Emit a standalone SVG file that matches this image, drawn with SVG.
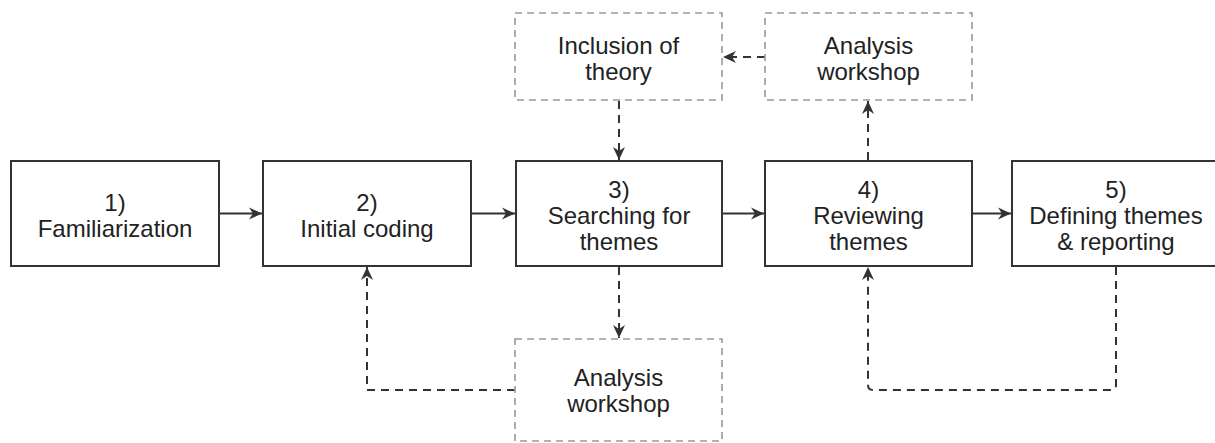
<svg xmlns="http://www.w3.org/2000/svg" width="1215" height="443" viewBox="0 0 1215 443">
  <style>
    .box { fill: #ffffff; stroke: #333333; stroke-width: 2; }
    .dbox { fill: #ffffff; stroke: #999999; stroke-width: 1.6; stroke-dasharray: 7 5; }
    .lbl { font-family: "Liberation Sans", Arial, sans-serif; font-size: 24px; fill: #222222; text-anchor: middle; }
    .solid { fill: none; stroke: #333333; stroke-width: 2; marker-end: url(#arrow); }
    .dash { fill: none; stroke: #333333; stroke-width: 2; stroke-dasharray: 8 6; marker-end: url(#arrow); }
  </style>
  <defs>
    <marker id="arrow" markerUnits="userSpaceOnUse" markerWidth="14" markerHeight="14" viewBox="0 0 14 14" refX="13" refY="7" orient="auto">
      <path d="M0,1 L13,7 L0,13 L4,7 Z" fill="#333333"/>
    </marker>
  </defs>
  <rect width="1215" height="443" fill="#ffffff"/>

  <g id="connectors">
    <path class="solid" d="M219,213.5 H262"/>
    <path class="solid" d="M471,213.5 H515"/>
    <path class="solid" d="M722,213.5 H764"/>
    <path class="solid" d="M972,213.5 H1011"/>
    <path class="dash" d="M619,101 V160"/>
    <path class="dash" d="M619,267 V338"/>
    <path class="dash" d="M515,390 H367 V267"/>
    <path class="dash" d="M868,160 V101"/>
    <path class="dash" d="M765,57 H723"/>
    <path class="dash" d="M1116,267 V385 Q1116,390 1111,390 H873 Q868,390 868,385 V267"/>
  </g>

  <g id="node1">
    <rect class="box" x="11" y="161" width="208" height="105"/>
    <text class="lbl" x="115" y="210.5">1)</text>
    <text class="lbl" x="115" y="236.5">Familiarization</text>
  </g>
  <g id="node2">
    <rect class="box" x="263" y="161" width="208" height="105"/>
    <text class="lbl" x="367" y="210.5">2)</text>
    <text class="lbl" x="367" y="236.5">Initial coding</text>
  </g>
  <g id="node3">
    <rect class="box" x="516" y="161" width="206" height="105"/>
    <text class="lbl" x="619" y="197.5">3)</text>
    <text class="lbl" x="619" y="223.5">Searching for</text>
    <text class="lbl" x="619" y="249.5">themes</text>
  </g>
  <g id="node4">
    <rect class="box" x="765" y="161" width="207" height="105"/>
    <text class="lbl" x="868.5" y="197.5">4)</text>
    <text class="lbl" x="868.5" y="223.5">Reviewing</text>
    <text class="lbl" x="868.5" y="249.5">themes</text>
  </g>
  <g id="node5">
    <rect class="box" x="1012" y="161" width="208" height="105"/>
    <text class="lbl" x="1116" y="197.5">5)</text>
    <text class="lbl" x="1116" y="223.5">Defining themes</text>
    <text class="lbl" x="1116" y="249.5">&amp; reporting</text>
  </g>
  <g id="theory">
    <rect class="dbox" x="515" y="13" width="207" height="87"/>
    <text class="lbl" x="618.5" y="53.5">Inclusion of</text>
    <text class="lbl" x="618.5" y="79.5">theory</text>
  </g>
  <g id="workshopTop">
    <rect class="dbox" x="765" y="13" width="207" height="87"/>
    <text class="lbl" x="868.5" y="53.5">Analysis</text>
    <text class="lbl" x="868.5" y="79.5">workshop</text>
  </g>
  <g id="workshopBottom">
    <rect class="dbox" x="515" y="339" width="207" height="102"/>
    <text class="lbl" x="618.5" y="386">Analysis</text>
    <text class="lbl" x="618.5" y="412">workshop</text>
  </g>
</svg>
